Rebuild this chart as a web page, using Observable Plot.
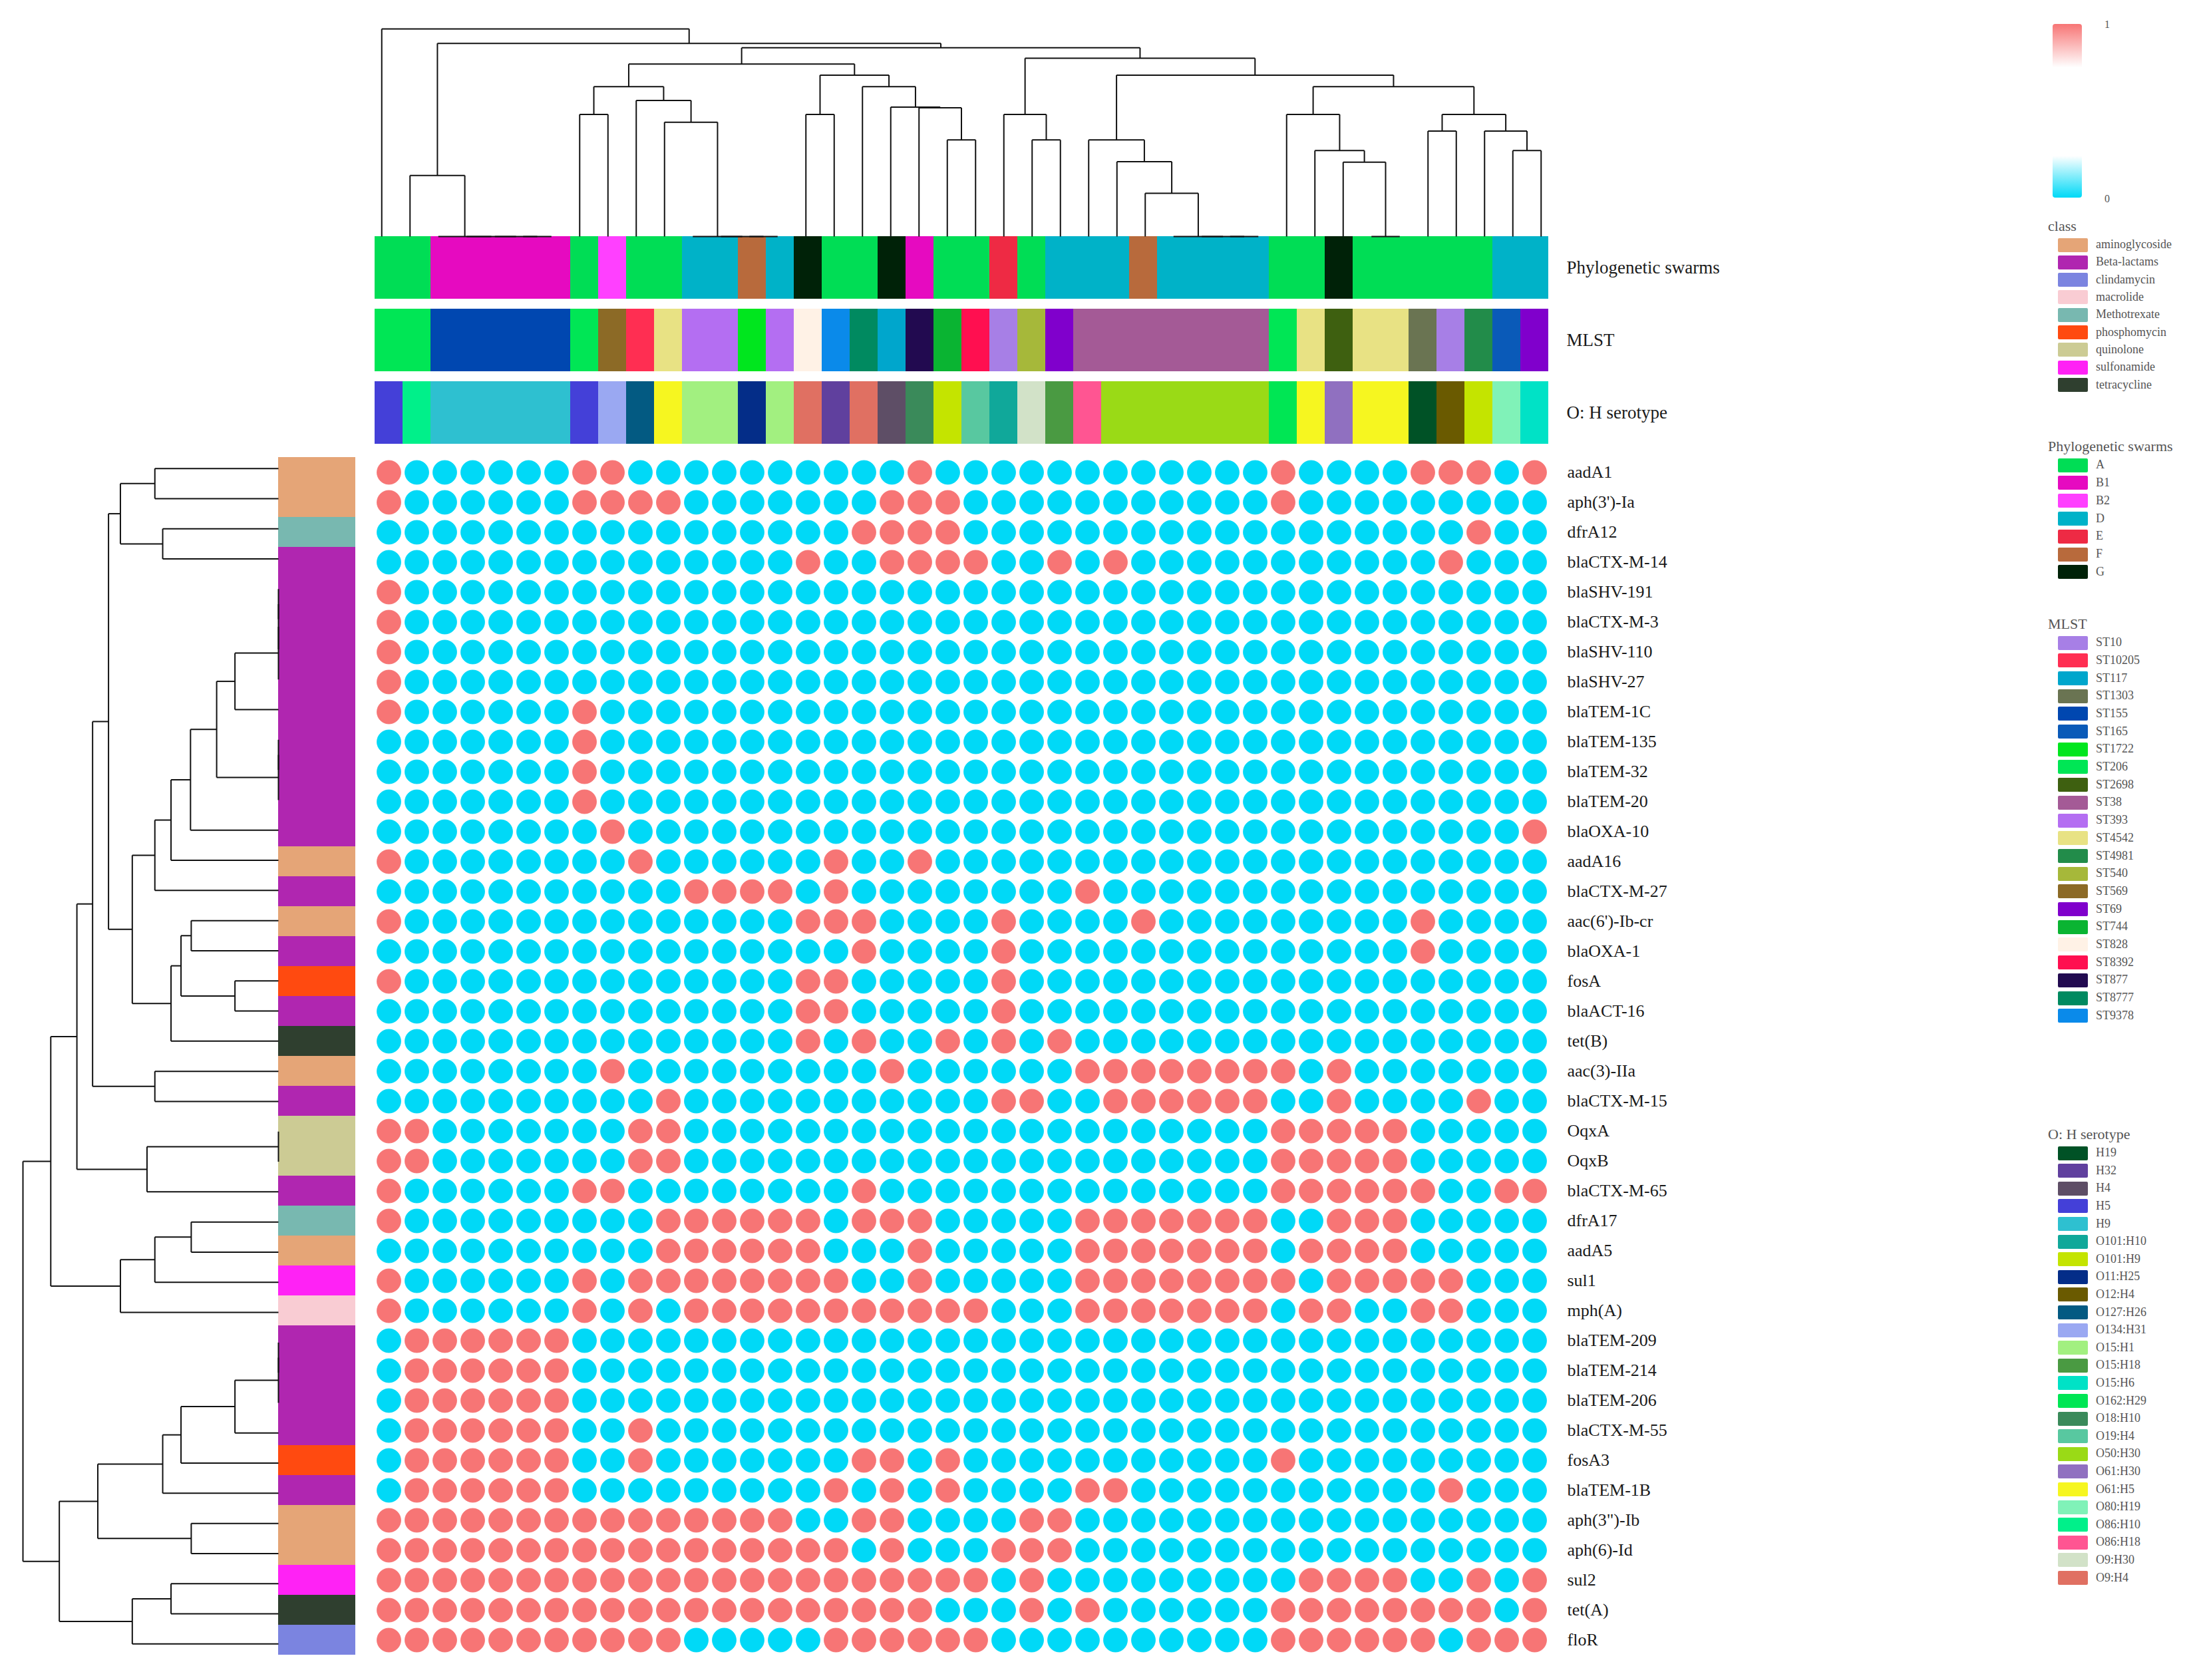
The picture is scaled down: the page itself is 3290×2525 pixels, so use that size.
<!DOCTYPE html>
<html><head><meta charset="utf-8">
<script src="https://cdn.jsdelivr.net/npm/d3@7"></script>
<script src="https://cdn.jsdelivr.net/npm/@observablehq/plot@0.6"></script>
<style>
body{margin:0;background:#fff;}
#wrap{position:relative;width:3290px;height:2525px;overflow:hidden;background:#fff;font-family:"Liberation Serif","Times New Roman",serif;}
#wrap svg{position:absolute;left:0;top:0;}
.lg{position:absolute;white-space:nowrap;color:#555;line-height:1;}
.sw{position:absolute;border-radius:2px;}
</style></head><body><div id="wrap"></div>
<script>
// ---------------- DATA ----------------
const genes = ["aadA1","aph(3')-Ia","dfrA12","blaCTX-M-14","blaSHV-191","blaCTX-M-3","blaSHV-110","blaSHV-27","blaTEM-1C","blaTEM-135","blaTEM-32","blaTEM-20","blaOXA-10","aadA16","blaCTX-M-27","aac(6')-Ib-cr","blaOXA-1","fosA","blaACT-16","tet(B)","aac(3)-IIa","blaCTX-M-15","OqxA","OqxB","blaCTX-M-65","dfrA17","aadA5","sul1","mph(A)","blaTEM-209","blaTEM-214","blaTEM-206","blaCTX-M-55","fosA3","blaTEM-1B",'aph(3")-Ib',"aph(6)-Id","sul2","tet(A)","floR"];

const geneClass = ["aminoglycoside","aminoglycoside","Methotrexate","Beta-lactams","Beta-lactams","Beta-lactams","Beta-lactams","Beta-lactams","Beta-lactams","Beta-lactams","Beta-lactams","Beta-lactams","Beta-lactams","aminoglycoside","Beta-lactams","aminoglycoside","Beta-lactams","phosphomycin","Beta-lactams","tetracycline","aminoglycoside","Beta-lactams","quinolone","quinolone","Beta-lactams","Methotrexate","aminoglycoside","sulfonamide","macrolide","Beta-lactams","Beta-lactams","Beta-lactams","Beta-lactams","phosphomycin","Beta-lactams","aminoglycoside","aminoglycoside","sulfonamide","tetracycline","clindamycin"];

// presence (1) / absence (0) per gene, 42 isolates in dendrogram order (groups of ten)
const presence = [
 "1000000110 0000000001 0000000000 0010000111 01",
 "1000000111 1000000011 1000000000 0010000000 00",
 "0000000000 0000000111 1000000000 0000000001 00",
 "0000000000 0000010011 1100101000 0000000010 00",
 "1000000000 0000000000 0000000000 0000000000 00",
 "1000000000 0000000000 0000000000 0000000000 00",
 "1000000000 0000000000 0000000000 0000000000 00",
 "1000000000 0000000000 0000000000 0000000000 00",
 "1000000100 0000000000 0000000000 0000000000 00",
 "0000000100 0000000000 0000000000 0000000000 00",
 "0000000100 0000000000 0000000000 0000000000 00",
 "0000000100 0000000000 0000000000 0000000000 00",
 "0000000010 0000000000 0000000000 0000000000 01",
 "1000000001 0000001001 0000000000 0000000000 00",
 "0000000000 0111101000 0000010000 0000000000 00",
 "1000000000 0000011100 0010000100 0000000100 00",
 "0000000000 0000000100 0010000000 0000000100 00",
 "1000000000 0000011000 0010000000 0000000000 00",
 "0000000000 0000011000 0010000000 0000000000 00",
 "0000000000 0000010100 1010100000 0000000000 00",
 "0000000010 0000000010 0000011111 1110100000 00",
 "0000000000 1000000000 0011001111 1100100001 00",
 "1100000001 1000000000 0000000000 0011111000 00",
 "1100000001 1000000000 0000000000 0011111000 00",
 "1000000110 0000000100 0000000000 0011111100 11",
 "1000000000 1111110111 0000011111 1100111000 00",
 "0000000000 1111110001 0000011111 1101111000 00",
 "1000000101 1111111001 0000011111 1110111110 00",
 "1000000101 0111111111 1100011111 1101100110 00",
 "0111111000 0000000000 0000000000 0000000000 00",
 "0111111000 0000000000 0000000000 0000000000 00",
 "0111111000 0000000000 0000000000 0000000000 00",
 "0111111001 0000000000 0000000000 0000000000 00",
 "0111111001 0000000110 1000000000 0010000000 00",
 "0111111000 0000001010 1000011000 0000000010 00",
 "1111111111 1111100110 0001100000 0000000000 00",
 "1111111111 1111111010 0011100000 0000000000 00",
 "1111111111 1111111111 1101000000 0001111001 01",
 "1111111111 1111111111 0001010000 0011111111 01",
 "1111111111 1000001111 1100000000 0011111101 11"
];

const phylo = ["A","A","B1","B1","B1","B1","B1","A","B2","A","A","D","D","F","D","G","A","A","G","B1","A","A","E","A","D","D","D","F","D","D","D","D","A","A","G","A","A","A","A","A","D","D"];
const mlst = ["ST206","ST206","ST155","ST155","ST155","ST155","ST155","ST206","ST569","ST10205","ST4542","ST393","ST393","ST1722","ST393","ST828","ST9378","ST8777","ST117","ST877","ST744","ST8392","ST10","ST540","ST69","ST38","ST38","ST38","ST38","ST38","ST38","ST38","ST206","ST4542","ST2698","ST4542","ST4542","ST1303","ST10","ST4981","ST165","ST69"];
const serotype = ["H5","O86:H10","H9","H9","H9","H9","H9","H5","O134:H31","O127:H26","O61:H5","O15:H1","O15:H1","O11:H25","O15:H1","O9:H4","H32","O9:H4","H4","O18:H10","O101:H9","O19:H4","O101:H10","O9:H30","O15:H18","O86:H18","O50:H30","O50:H30","O50:H30","O50:H30","O50:H30","O50:H30","O162:H29","O61:H5","O61:H30","O61:H5","O61:H5","H19","O12:H4","O101:H9","O80:H19","O15:H6"];

// column dendrogram: [child, child, height]; numbers = leaf column, "mN" = merge N
const colMerges = [
 [5,6,0],[4,"m1",0],[3,"m2",0],[2,"m3",0],[1,"m4",275],[7,8,550],
 [13,14,0],[12,"m7",0],[11,"m8",0],[10,"m9",515],[9,"m10",613],["m6","m11",675],
 [15,16,550],[20,21,435],[19,"m14",580],[18,"m15",583],[17,"m16",675],["m13","m17",727],
 ["m12","m18",777],[23,24,435],[22,"m20",550],[30,31,0],[29,"m22",0],[28,"m23",0],
 [27,"m24",195],[26,"m25",337],[25,"m26",435],[35,36,0],[34,"m28",335],[33,"m29",387],
 [32,"m30",550],[37,38,475],[40,41,387],[39,"m33",475],["m32","m34",550],["m31","m35",675],
 ["m27","m36",727],["m21","m37",803],["m19","m38",850],["m5","m39",870],[0,"m40",935]
];
// row dendrogram: numbers = leaf row
const rowMerges = [
 [0,1,520],[2,3,487],["m1","m2",665],[4,5,0],["m4",6,0],["m5",7,0],["m6",8,183],
 [9,10,0],["m8",11,0],["m7","m9",260],["m10",12,370],["m11",13,452],["m12",14,520],
 [15,16,367],[17,18,183],["m14","m15",410],["m16",19,452],["m13","m17",615],["m3","m18",715],
 [20,21,520],["m19","m20",782],[22,23,0],["m22",24,553],["m21","m23",848],[25,26,367],
 ["m25",27,520],["m26",28,665],["m24","m27",958],[29,30,0],["m29",31,0],["m30",32,183],
 ["m31",33,410],["m32",34,487],[35,36,367],["m33","m34",760],[37,38,452],["m36",39,615],
 ["m35","m37",922],["m28","m38",1075]
];

const classNames = ["aminoglycoside","Beta-lactams","clindamycin","macrolide","Methotrexate","phosphomycin","quinolone","sulfonamide","tetracycline"];
const classColors = ["#E5A577","#B026B0","#7B84E0","#F9CCD3","#78B8B0","#FF4A10","#CCCB94","#FF22F5","#2F3F2F"];
const phyloNames = ["A","B1","B2","D","E","F","G"];
const phyloColors = ["#00DD55","#E60AC0","#FF40FF","#00B2C8","#EE2A44","#B86A3C","#002208"];
const mlstNames = ["ST10","ST10205","ST117","ST1303","ST155","ST165","ST1722","ST206","ST2698","ST38","ST393","ST4542","ST4981","ST540","ST569","ST69","ST744","ST828","ST8392","ST877","ST8777","ST9378"];
const mlstColors = ["#A77FE6","#FF2E52","#00A6CC","#6A7452","#0047B0","#0A5AB8","#00E61E","#00E655","#3E6010","#A45A96","#B46EF2","#E8E284","#228C4A","#A6B83A","#8C6A26","#8000CC","#0AB432","#FFF2E6","#FF0F50","#220A50","#008A60","#0A8AEA"];
const seroNames = ["H19","H32","H4","H5","H9","O101:H10","O101:H9","O11:H25","O12:H4","O127:H26","O134:H31","O15:H1","O15:H18","O15:H6","O162:H29","O18:H10","O19:H4","O50:H30","O61:H30","O61:H5","O80:H19","O86:H10","O86:H18","O9:H30","O9:H4"];
const seroColors = ["#005226","#60409E","#5E4E66","#4440D8","#2EC0D0","#10A89A","#C4E400","#042D88","#6A5A00","#035A82","#9AA8F2","#A2F080","#4A9A42","#00E2C6","#00E654","#3A8A5A","#58C8A0","#9ADA16","#9070C0","#F6F620","#80F2B8","#00F08A","#FF5592","#D2E2C8","#E07062"];
const valueColors = ["#00D9F7","#F77575"]; // 0 absent, 1 present
const trackNames = ["Phylogenetic swarms","MLST","O: H serotype"];

// ---------------- LAYOUT ----------------
const W = 3290, H = 2525;
const FONT = '"Liberation Serif","Times New Roman",serif';
const HX = [552, 2337], HY = [681, 2493];
const TRACK_Y = [355, 667];
const TOP_Y = [355, 43];
const CLASS_X = [418, 534];
const LEFT_X = [418, 34];

const samples = phylo.map((_, i) => "S" + (i + 1));
const rows = presence.map(s => s.replace(/ /g, ""));
const cells = [];
genes.forEach((g, r) => samples.forEach((s, c) => cells.push({gene: g, sample: s, v: +rows[r][c]})));

const annot = [];
const tracks = [phylo, mlst, serotype];
tracks.forEach((arr, t) => arr.forEach((k, c) => annot.push({track: trackNames[t], sample: samples[c], key: trackNames[t] + "|" + k})));
const annotDomain = [].concat(
  phyloNames.map(k => trackNames[0] + "|" + k),
  mlstNames.map(k => trackNames[1] + "|" + k),
  seroNames.map(k => trackNames[2] + "|" + k));
const annotRange = [].concat(phyloColors, mlstColors, seroColors);

function dendroLinks(merges) {
  const pos = [], ht = [], links = [];
  const get = c => typeof c === "number" ? [c, 0] : [pos[+c.slice(1) - 1], ht[+c.slice(1) - 1]];
  merges.forEach(([a, b, h], i) => {
    const [pa, ha] = get(a), [pb, hb] = get(b);
    links.push({p1: pa, h1: ha, p2: pa, h2: h}, {p1: pb, h1: hb, p2: pb, h2: h}, {p1: pa, h1: h, p2: pb, h2: h});
    pos[i] = (pa + pb) / 2; ht[i] = h;
  });
  return links;
}
const colLinks = dendroLinks(colMerges);
const rowLinks = dendroLinks(rowMerges);
const colMaxH = d3.max(colMerges, d => d[2]);
const rowMaxH = d3.max(rowMerges, d => d[2]);

const wrap = document.getElementById("wrap");
const frame = (x, y) => ({width: W, height: H, marginLeft: x[0], marginRight: W - x[1], marginTop: y[0], marginBottom: H - y[1]});
const st = (fs) => ({background: "transparent", fontFamily: FONT, fontSize: fs + "px", color: "#1a1a1a", overflow: "visible"});

// heatmap
wrap.appendChild(Plot.plot({
  ...frame(HX, HY), style: st(26),
  x: {type: "band", domain: samples, padding: 0, axis: null},
  y: {type: "band", domain: genes, padding: 0, axis: "right", tickSize: 0, tickPadding: 18, label: null},
  color: {type: "ordinal", domain: [0, 1], range: valueColors},
  marks: [Plot.dot(cells, {x: "sample", y: "gene", r: 18, fill: "v", stroke: "v", strokeWidth: 0.8})]
}));

// annotation tracks
wrap.appendChild(Plot.plot({
  ...frame(HX, TRACK_Y), style: st(27),
  x: {type: "band", domain: samples, padding: 0, axis: null},
  y: {type: "band", domain: trackNames, paddingInner: 0.14, paddingOuter: 0, axis: "right", tickSize: 0, tickPadding: 17, label: null},
  color: {type: "ordinal", domain: annotDomain, range: annotRange},
  marks: [Plot.cell(annot, {x: "sample", y: "track", fill: "key", inset: 0, shapeRendering: "crispEdges"})]
}));

// class bar
wrap.appendChild(Plot.plot({
  ...frame(CLASS_X, HY), style: st(20),
  x: {type: "band", domain: ["class"], padding: 0, axis: null},
  y: {type: "band", domain: genes, padding: 0, axis: null},
  color: {type: "ordinal", domain: classNames, range: classColors},
  marks: [Plot.cell(genes, {x: () => "class", y: d => d, fill: (d, i) => geneClass[i], inset: 0, shapeRendering: "crispEdges"})]
}));

// top dendrogram
wrap.appendChild(Plot.plot({
  ...frame(HX, [TOP_Y[1], TOP_Y[0]]), style: st(20),
  x: {type: "linear", domain: [-0.5, samples.length - 0.5], range: HX, axis: null},
  y: {type: "linear", domain: [0, colMaxH], range: TOP_Y, axis: null},
  marks: [Plot.link(colLinks, {x1: "p1", y1: "h1", x2: "p2", y2: "h2", stroke: "#111", strokeWidth: 2})]
}));

// left dendrogram
wrap.appendChild(Plot.plot({
  ...frame([LEFT_X[1], LEFT_X[0]], HY), style: st(20),
  x: {type: "linear", domain: [0, rowMaxH], range: LEFT_X, axis: null},
  y: {type: "linear", domain: [-0.5, genes.length - 0.5], range: HY, axis: null},
  marks: [Plot.link(rowLinks, {x1: "h1", y1: "p1", x2: "h2", y2: "p2", stroke: "#111", strokeWidth: 2})]
}));

// ---------------- LEGENDS ----------------
function txt(s, x, cy, size) {
  const d = document.createElement("div");
  d.className = "lg"; d.textContent = s;
  d.style.left = x + "px"; d.style.top = (cy - size * 0.55) + "px"; d.style.fontSize = size + "px";
  wrap.appendChild(d);
}
function swatch(color, x, cy) {
  const d = document.createElement("div");
  d.className = "sw"; d.style.left = x + "px"; d.style.top = (cy - 10.5) + "px";
  d.style.width = "45px"; d.style.height = "21px"; d.style.background = color;
  wrap.appendChild(d);
}
function legend(title, names, colors, titleY, firstY, step) {
  txt(title, 3078, titleY, 22);
  names.forEach((n, i) => { swatch(colors[i], 3093, firstY + i * step); txt(n, 3150, firstY + i * step, 18); });
}
const bar = document.createElement("div");
bar.style.cssText = "position:absolute;left:3085px;top:36px;width:44px;height:261px;border-radius:4px;background:linear-gradient(to bottom," + valueColors[1] + " 0%,#fff 25%,#fff 76%," + valueColors[0] + " 100%);";
wrap.appendChild(bar);
txt("1", 3163, 38, 16);
txt("0", 3163, 300, 16);
legend("class", classNames, classColors, 341, 368, 26.3);
legend("Phylogenetic swarms", phyloNames, phyloColors, 672, 699, 26.8);
legend("MLST", mlstNames, mlstColors, 939, 966, 26.7);
legend("O: H serotype", seroNames, seroColors, 1706, 1733, 26.6);
</script></body></html>
